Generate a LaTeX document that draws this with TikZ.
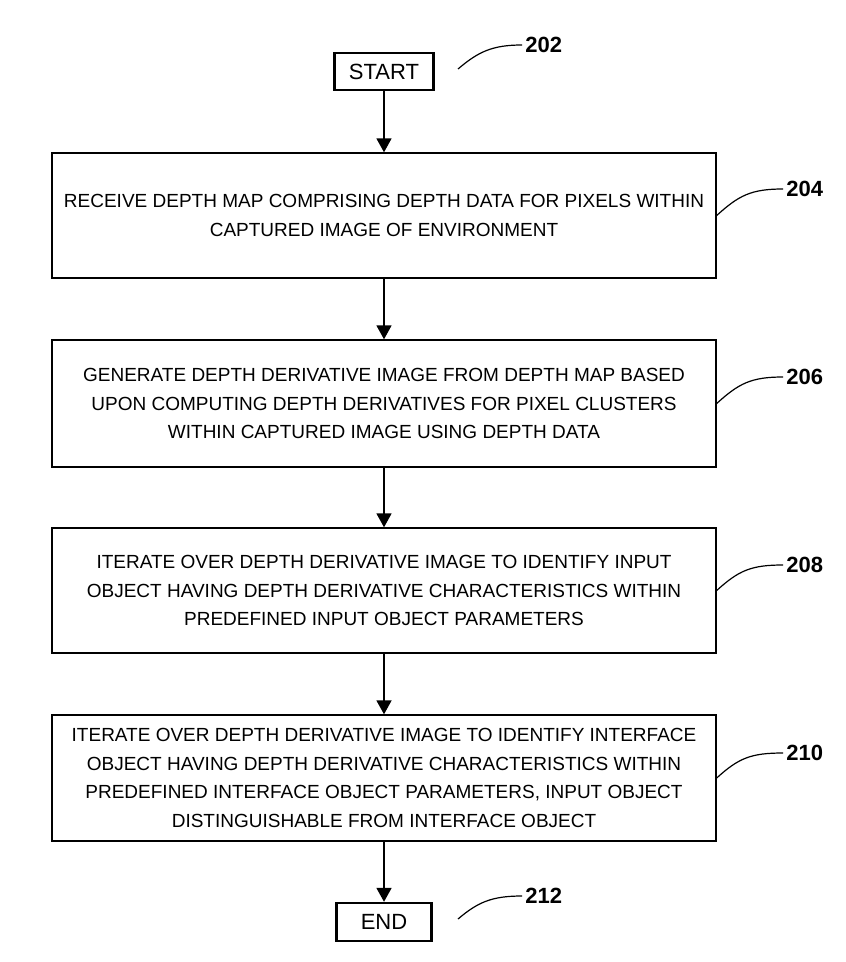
\documentclass[tikz,border=0pt]{standalone}
\usepackage{fontspec}
\setmainfont{Liberation Sans}
\usepackage{tikz}
\usetikzlibrary{positioning,arrows.meta}

\begin{document}
\begin{tikzpicture}[x=0.5pt,y=-0.5pt,
  term/.style={draw,line width=1.2pt,minimum width=49.5pt,minimum height=18.5pt,
             inner sep=0pt,font=\fontsize{11}{13}\selectfont},
  stepbox/.style={draw,line width=.7pt,minimum width=332pt,inner sep=0pt,
             align=center,font=\fontsize{9.5}{14.25}\selectfont},
  ref/.style={anchor=west,inner sep=1.5pt,font=\fontsize{11}{13}\selectfont\bfseries},
  ar/.style={-{Triangle[length=7pt,width=7.5pt]},line width=.9pt},
  lead/.style={line width=.6pt}]

\useasboundingbox (0,0) rectangle (845,962);

\node[term] (start) at (384,71.5) {START};
\node[stepbox,minimum height=62.5pt] (s204) at (384,215.5)
  {RECEIVE DEPTH MAP COMPRISING DEPTH DATA FOR PIXELS WITHIN\\
   CAPTURED IMAGE OF ENVIRONMENT};
\node[stepbox,minimum height=63.5pt] (s206) at (384,403.5)
  {GENERATE DEPTH DERIVATIVE IMAGE FROM DEPTH MAP BASED\\
   UPON COMPUTING DEPTH DERIVATIVES FOR PIXEL CLUSTERS\\
   WITHIN CAPTURED IMAGE USING DEPTH DATA};
\node[stepbox,minimum height=62.5pt] (s208) at (384,590.5)
  {ITERATE OVER DEPTH DERIVATIVE IMAGE TO IDENTIFY INPUT\\
   OBJECT HAVING DEPTH DERIVATIVE CHARACTERISTICS WITHIN\\
   PREDEFINED INPUT OBJECT PARAMETERS};
\node[stepbox,minimum height=63pt] (s210) at (384,778)
  {ITERATE OVER DEPTH DERIVATIVE IMAGE TO IDENTIFY INTERFACE\\
   OBJECT HAVING DEPTH DERIVATIVE CHARACTERISTICS WITHIN\\
   PREDEFINED INTERFACE OBJECT PARAMETERS, INPUT OBJECT\\
   DISTINGUISHABLE FROM INTERFACE OBJECT};
\node[term,minimum width=47.5pt,minimum height=19pt] (end) at (384,922) {END};

\foreach \a/\b in {start/s204,s204/s206,s206/s208,s208/s210,s210/end}
  \draw[ar] (\a.south) -- (\a.south |- \b.north);

% reference numerals
\node[ref] (l202) at (522,45)  {202};
\node[ref] (l204) at (783,189) {204};
\node[ref] (l206) at (783,377) {206};
\node[ref] (l208) at (783,565) {208};
\node[ref] (l210) at (783,753) {210};
\node[ref] (l212) at (522,896) {212};

\coordinate (t202) at (458,69);
\coordinate (t212) at (458,919);
\foreach \n in {204,206,208,210}
  \draw[lead] (s\n.east) .. controls +(22,-20) and +(-32,0) .. (l\n.west);
\foreach \n in {202,212}
  \draw[lead] (t\n) .. controls +(20,-17) and +(-30,0) .. (l\n.west);

\end{tikzpicture}
\end{document}
